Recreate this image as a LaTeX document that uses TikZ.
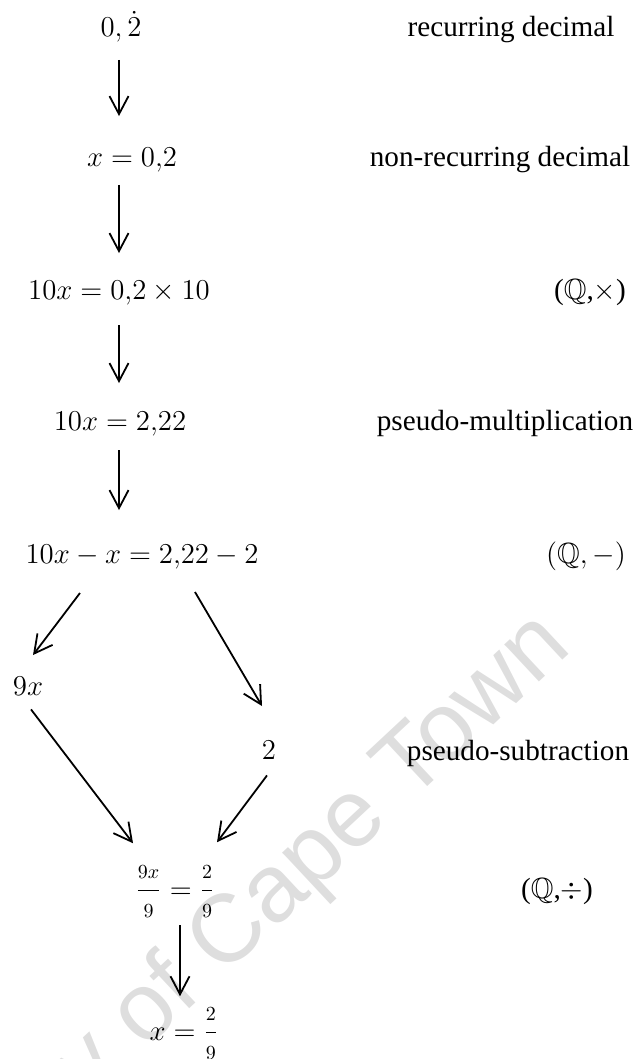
\documentclass[tikz,border=0pt]{standalone}
\usepackage{amsmath}
\usepackage{amssymb}
\usepackage{fontspec}
\setmainfont{Liberation Serif}
\newfontfamily\wmfont{Liberation Sans}
\usepackage{tikz}
\usetikzlibrary{arrows.meta}

\begin{document}
\begin{tikzpicture}[
  x=0.5pt,y=-0.5pt,
  font=\fontsize{14.6}{17}\selectfont,
  eq/.style={inner sep=0pt,anchor=base},
  rl/.style={inner sep=0pt,anchor=base},
  flow/.style={->,line width=0.9pt},
  >={Straight Barb[length=9pt,width=9.5pt]}
]
\useasboundingbox (0,0) rectangle (637,1059);
% ---- watermark, behind everything ----
\begin{scope}
  \clip (0,0) rectangle (637,1059);
  \node[font=\wmfont\fontsize{48}{50}\selectfont,text=black!13,rotate=43,
        anchor=base east,inner sep=0pt] (wm) at (574,650) {University of Cape Town};
\end{scope}

% ---- the chain of steps ----
\node[eq] (n0) at (121,37)  {$0,\dot{2}$};
\node[eq] (n1) at (132,167) {$x = 0{,}2$};
\node[eq] (n2) at (119,299) {$10x = 0{,}2 \times 10$};
\node[eq] (n3) at (120,430) {$10x = 2{,}22$};
\node[eq] (n4) at (142,563) {$10x - x = 2{,}22 - 2$};
\node[eq] (n5) at (28,695)  {$9x$};
\node[eq] (n6) at (269,759) {$2$};
\node[eq] (n7) at (175,898) {$\dfrac{\scriptstyle 9x}{\scriptstyle 9} = \dfrac{\scriptstyle 2}{\scriptstyle 9}$};
\node[eq] (n8) at (184,1040) {$x = \dfrac{\scriptstyle 2}{\scriptstyle 9}$};

% ---- what each step is ----
\node[rl] (l0) at (511,37)  {recurring decimal};
\node[rl] (l1) at (500,167) {non-recurring decimal};
\node[rl] (l2) at (590,299) {(\(\mathbb{Q}\),\(\times\))};
\node[rl] (l3) at (505,430) {pseudo-multiplication};
\node[rl] (l4) at (586,563) {$(\mathbb{Q}, -)$};
\node[rl] (l5) at (518,760) {pseudo-subtraction};
\node[rl] (l6) at (557,898) {(\(\mathbb{Q}\),\(\div\))};

% ---- arrows ----
\draw[flow] ([xshift=-1pt,yshift=-8.5pt]n0.south) -- ([xshift=-6.5pt,yshift=16pt]n1.north);
\draw[flow] ([xshift=-6.5pt,yshift=-6pt]n1.south) -- ([yshift=13.5pt]n2.north);
\draw[flow] ([yshift=-10pt]n2.south) -- ([xshift=-0.5pt,yshift=14pt]n3.north);
\draw[flow] ([xshift=-0.5pt,yshift=-7pt]n3.south) -- ([xshift=-11.5pt,yshift=17pt]n4.north);
% split into the two sides
\draw[flow] ([xshift=-31pt,yshift=-12pt]n4.south) -- ([xshift=2.5pt,yshift=10.5pt]n5.north);
\draw[flow] ([xshift=26.5pt,yshift=-11.5pt]n4.south) -- ([xshift=-3.5pt,yshift=17pt]n6.north);
% and back together
\draw[flow] ([xshift=1.5pt,yshift=-7pt]n5.south) -- ([xshift=-21pt,yshift=11pt]n7.north);
\draw[flow] ([xshift=-1pt,yshift=-8pt]n6.south) -- ([xshift=21pt,yshift=11.5pt]n7.north);
\draw[flow] ([xshift=2.5pt,yshift=-3.5pt]n7.south) -- ([xshift=-2pt,yshift=5.5pt]n8.north);
\end{tikzpicture}
\end{document}
